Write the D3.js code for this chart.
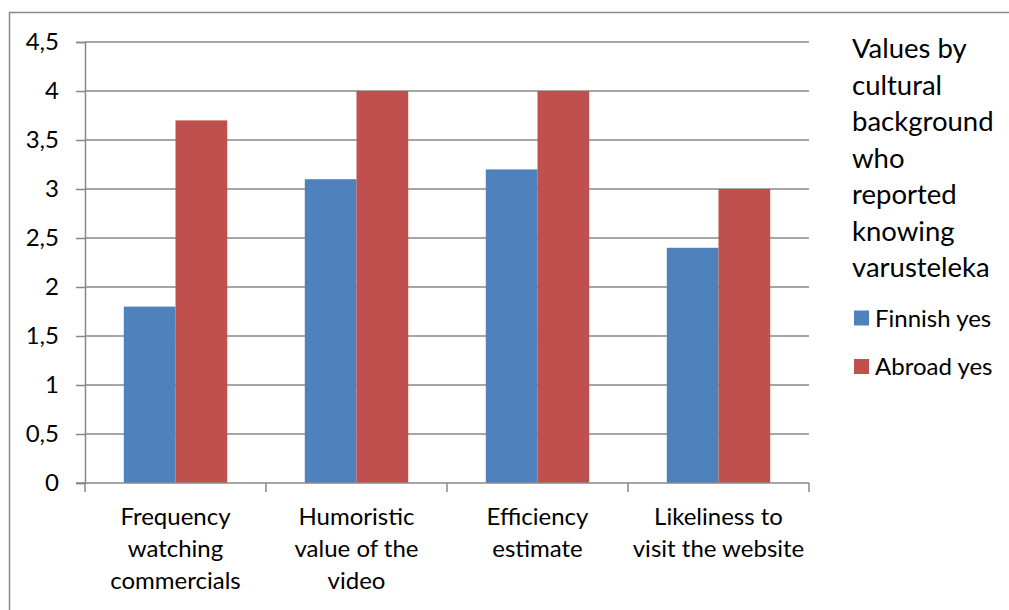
<!DOCTYPE html>
<html>
<head>
<meta charset="utf-8">
<script src="https://cdn.jsdelivr.net/npm/d3@7"></script>
<style>
  html, body { margin: 0; padding: 0; background: #fff; }
  svg { display: block; }
  text { font-family: "Lato", "Open Sans", sans-serif; fill: #000; }
</style>
</head>
<body>
<svg id="chart" width="1009" height="610"></svg>
<script>
// Chart data
const categories = [
  ["Frequency", "watching", "commercials"],
  ["Humoristic", "value of the", "video"],
  ["Efficiency", "estimate"],
  ["Likeliness to", "visit the website"]
];
const seriesNames = ["Finnish yes", "Abroad yes"];
const finnishYes = [1.8, 3.1, 3.2, 2.4];
const abroadYes = [3.7, 4, 4, 3];
const yTicks = [0, 0.5, 1, 1.5, 2, 2.5, 3, 3.5, 4, 4.5];
const legendTitle = ["Values by", "cultural", "background", "who", "reported", "knowing", "varusteleka"];
const colors = ["#4f81bd", "#c0504d"];

const svg = d3.select("#chart");
const W = 1009, H = 610;
const plot = { left: 85, right: 809, top: 42, bottom: 483 };
const fontSize = 24;
const titleSize = 27.5;

// Outer chart frame
svg.append("rect")
  .attr("x", 9.5).attr("y", 12.5)
  .attr("width", W + 20).attr("height", H + 20)
  .attr("fill", "none").attr("stroke", "#898989").attr("stroke-width", 1.5);

const x0 = d3.scaleBand()
  .domain(d3.range(categories.length))
  .range([plot.left, plot.right])
  .paddingInner(0).paddingOuter(0);

// Bars take 2 of 3.5 units per category (gap = 150% of bar width)
const groupW = x0.bandwidth() * 2 / 3.5;
const x1 = d3.scaleBand()
  .domain([0, 1])
  .range([0, groupW])
  .padding(0);

const y = d3.scaleLinear().domain([0, 4.5]).range([plot.bottom, plot.top]);

// Horizontal gridlines
svg.append("g")
  .selectAll("line")
  .data(yTicks.filter(d => d > 0))
  .join("line")
  .attr("x1", plot.left).attr("x2", plot.right)
  .attr("y1", d => y(d)).attr("y2", d => y(d))
  .attr("stroke", "#888").attr("stroke-width", 1.5);

// Y axis
const yAxis = d3.axisLeft(y)
  .tickValues(yTicks)
  .tickSize(9)
  .tickPadding(17)
  .tickFormat(d => String(d).replace(".", ","));
const gy = svg.append("g")
  .attr("transform", `translate(${plot.left},0)`)
  .call(yAxis);
gy.select(".domain").attr("stroke", "#888").attr("stroke-width", 1.5);
gy.selectAll(".tick line").attr("stroke", "#888").attr("stroke-width", 1.5);
gy.selectAll(".tick text")
  .style("font-family", '"Lato", "Open Sans", sans-serif')
  .attr("font-size", fontSize).attr("fill", "#000");

// Bars
const seriesValues = [finnishYes, abroadYes];
const groups = svg.append("g")
  .selectAll("g")
  .data(categories.map((c, i) => i))
  .join("g")
  .attr("transform", i => `translate(${x0(i) + (x0.bandwidth() - groupW) / 2},0)`);

groups.selectAll("rect")
  .data(i => seriesValues.map((vals, s) => ({ s, v: vals[i] })))
  .join("rect")
  .attr("x", d => x1(d.s))
  .attr("width", x1.bandwidth())
  .attr("y", d => y(d.v))
  .attr("height", d => y(0) - y(d.v))
  .attr("fill", d => colors[d.s]);

// X axis with category boundary ticks
const gx = svg.append("g");
gx.append("line")
  .attr("x1", plot.left - 9).attr("x2", plot.right)
  .attr("y1", y(0)).attr("y2", y(0))
  .attr("stroke", "#888").attr("stroke-width", 1.5);
gx.selectAll("line.tk")
  .data(d3.range(categories.length + 1))
  .join("line")
  .attr("class", "tk")
  .attr("x1", i => plot.left + i * x0.bandwidth())
  .attr("x2", i => plot.left + i * x0.bandwidth())
  .attr("y1", y(0)).attr("y2", y(0) + 9)
  .attr("stroke", "#888").attr("stroke-width", 1.5);

// Category labels
const labels = svg.append("g")
  .selectAll("text")
  .data(categories.map((lines, i) => ({ lines, i })))
  .join("text")
  .attr("text-anchor", "middle")
  .attr("font-size", fontSize)
  .attr("x", d => x0(d.i) + x0.bandwidth() / 2);
labels.selectAll("tspan")
  .data(d => d.lines.map(t => ({ t, cx: x0(d.i) + x0.bandwidth() / 2 })))
  .join("tspan")
  .attr("x", d => d.cx)
  .attr("y", (d, j) => 525 + j * 32)
  .text(d => d.t);

// Legend title
svg.append("text")
  .attr("font-size", titleSize)
  .selectAll("tspan")
  .data(legendTitle)
  .join("tspan")
  .attr("x", 852)
  .attr("y", (d, j) => 58 + j * 36.5)
  .text(d => d);

// Legend entries
const legend = svg.append("g")
  .selectAll("g")
  .data(seriesNames.map((n, i) => ({ n, i })))
  .join("g")
  .attr("transform", d => `translate(854,${318 + d.i * 48.5})`);
legend.append("rect")
  .attr("x", 0).attr("y", -7.5)
  .attr("width", 15).attr("height", 15)
  .attr("fill", d => colors[d.i]);
legend.append("text")
  .attr("x", 21).attr("y", 8.5)
  .attr("font-size", fontSize)
  .text(d => d.n);
</script>
</body>
</html>
